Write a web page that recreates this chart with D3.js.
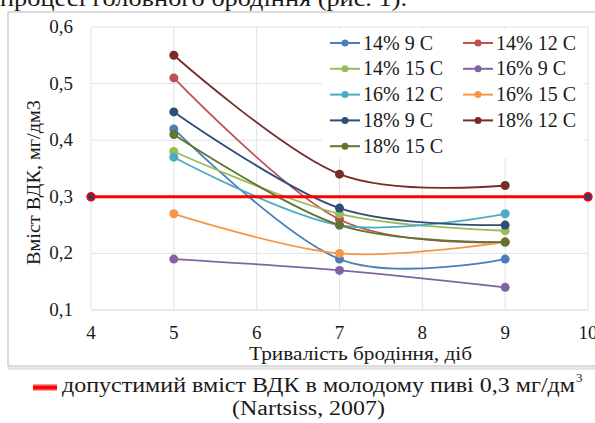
<!DOCTYPE html>
<html>
<head>
<meta charset="utf-8">
<script src="https://cdn.jsdelivr.net/npm/d3@7"></script>
<style>
  body { margin: 0; background: #fff; }
  svg, svg text { font-family: "Times New Roman", "Liberation Serif", Tinos, "DejaVu Serif", serif; }
</style>
</head>
<body>
<div id="chart"></div>
<script>
// days of fermentation
const days = [5, 7, 9];
const seriesNames = ["14% 9 C", "14% 12 C", "14% 15 C", "16% 9 C", "16% 12 C", "16% 15 C", "18% 9 C", "18% 12 C", "18% 15 C"];
const seriesValues = [
	[0.42, 0.19, 0.19],
	[0.51, 0.26, 0.22],
	[0.38, 0.27, 0.24],
	[0.19, 0.17, 0.14],
	[0.37, 0.25, 0.27],
	[0.27, 0.20, 0.22],
	[0.45, 0.28, 0.25],
	[0.55, 0.34, 0.32],
	[0.41, 0.25, 0.22]
];
const seriesColors = ["#4a7ebb", "#c0504d", "#9bbb59", "#8064a2", "#4bacc6", "#f79646", "#2c4d75", "#772c2a", "#5f7530"];
const limitDays = [4, 10];
const limitValue = 0.3;
const xTicks = [4, 5, 6, 7, 8, 9, 10];
const yTicks = [0.1, 0.2, 0.3, 0.4, 0.5, 0.6];

const W = 595, H = 423;
const svg = d3.select("#chart").append("svg").attr("width", W).attr("height", H)
	.attr("fill", "#1a1a1a");

// cropped text line from the page above
svg.append("text").attr("x", 0).attr("y", 6).attr("font-size", 24)
	.attr("textLength", 407).attr("lengthAdjust", "spacingAndGlyphs")
	.text("процесі головного бродіння (рис. 1).");

// chart frame
svg.append("rect").attr("x", 8).attr("y", 12).attr("width", 600).attr("height", 354)
	.attr("fill", "#fff").attr("stroke", "#d0d0d0").attr("stroke-width", 1.5);
svg.append("line").attr("x1", 8).attr("x2", 600).attr("y1", 368.5).attr("y2", 368.5)
	.attr("stroke", "#e2e2e2").attr("stroke-width", 2.5);

const x = d3.scaleLinear().domain([4, 10]).range([91, 588]);
const y = d3.scaleLinear().domain([0.1, 0.6]).range([310, 27]);

// grid
svg.append("g").selectAll("line").data(yTicks.slice(1)).join("line")
	.attr("x1", x(4)).attr("x2", x(10)).attr("y1", d => y(d)).attr("y2", d => y(d))
	.attr("stroke", "#e3e3e3");
svg.append("g").selectAll("line").data(xTicks).join("line")
	.attr("x1", d => x(d)).attr("x2", d => x(d)).attr("y1", y(0.6)).attr("y2", y(0.1))
	.attr("stroke", "#e3e3e3");
svg.append("line").attr("x1", x(4)).attr("x2", x(10)).attr("y1", y(0.1)).attr("y2", y(0.1))
	.attr("stroke", "#d4d4d4");

// legend background hides grid
svg.append("rect").attr("x", 322).attr("y", 30).attr("width", 262).attr("height", 128).attr("fill", "#fff");

// axis tick labels
const fmt = d => d3.format(".1f")(d).replace(".", ",");
svg.append("g").selectAll("text").data(yTicks).join("text")
	.attr("x", 73).attr("y", d => y(d) + 6).attr("text-anchor", "end").attr("font-size", 19)
	.text(fmt);
svg.append("g").selectAll("text").data(xTicks).join("text")
	.attr("x", d => x(d)).attr("y", y(0.1) + 29).attr("text-anchor", "middle").attr("font-size", 19)
	.text(d => d);

// axis titles
svg.append("text").attr("x", 249).attr("y", 360).attr("font-size", 18)
	.attr("textLength", 223).attr("lengthAdjust", "spacingAndGlyphs")
	.text("Тривалість бродіння, діб");
svg.append("text").attr("transform", "translate(40,265) rotate(-90)")
	.attr("font-size", 19).attr("textLength", 165).attr("lengthAdjust", "spacingAndGlyphs")
	.text("Вміст ВДК, мг/дм3");

// series
const line = d3.line().x(d => x(d[0])).y(d => y(d[1])).curve(d3.curveCardinal.tension(0));
seriesValues.forEach((vals, i) => {
	const pts = days.map((d, j) => [d, vals[j]]);
	const g = svg.append("g");
	g.append("path").attr("d", line(pts)).attr("fill", "none")
		.attr("stroke", seriesColors[i]).attr("stroke-width", 1.8);
	g.selectAll("circle").data(pts).join("circle")
		.attr("cx", d => x(d[0])).attr("cy", d => y(d[1])).attr("r", 4.5)
		.attr("fill", seriesColors[i]);
});

// limit line
svg.append("line").attr("x1", x(limitDays[0])).attr("x2", x(limitDays[1]))
	.attr("y1", y(limitValue)).attr("y2", y(limitValue))
	.attr("stroke", "#ff0000").attr("stroke-width", 3);
svg.selectAll("circle.lim").data(limitDays).join("circle").attr("class", "lim")
	.attr("cx", d => x(d)).attr("cy", y(limitValue)).attr("r", 4)
	.attr("fill", "#3b3b6b").attr("stroke", "#ff0000").attr("stroke-width", 1.5);

// legend
const leg = svg.append("g").selectAll("g").data(seriesNames).join("g")
	.attr("transform", (d, i) => `translate(${i % 2 ? 463 : 330},${43 + Math.floor(i / 2) * 25.8})`);
leg.append("line").attr("x1", 0).attr("x2", 30).attr("stroke", (d, i) => seriesColors[i]).attr("stroke-width", 2);
leg.append("circle").attr("cx", 15).attr("r", 3.5).attr("fill", (d, i) => seriesColors[i]);
leg.append("text").attr("x", 33).attr("y", 6.5).attr("font-size", 20).text(d => d);

// caption below chart
svg.append("rect").attr("x", 33).attr("y", 384).attr("width", 24).attr("height", 7).attr("fill", "#ff9a9a");
svg.append("rect").attr("x", 33).attr("y", 385.5).attr("width", 24).attr("height", 4).attr("fill", "#ff0000");
svg.append("text").attr("x", 62).attr("y", 392).attr("font-size", 20)
	.attr("textLength", 513).attr("lengthAdjust", "spacingAndGlyphs")
	.text("допустимий вміст ВДК в молодому пиві 0,3 мг/дм");
svg.append("text").attr("x", 576).attr("y", 382).attr("font-size", 13).text("3");
svg.append("text").attr("x", 232).attr("y", 415).attr("font-size", 20)
	.attr("textLength", 153).attr("lengthAdjust", "spacingAndGlyphs")
	.text("(Nartsiss, 2007)");
</script>
</body>
</html>
